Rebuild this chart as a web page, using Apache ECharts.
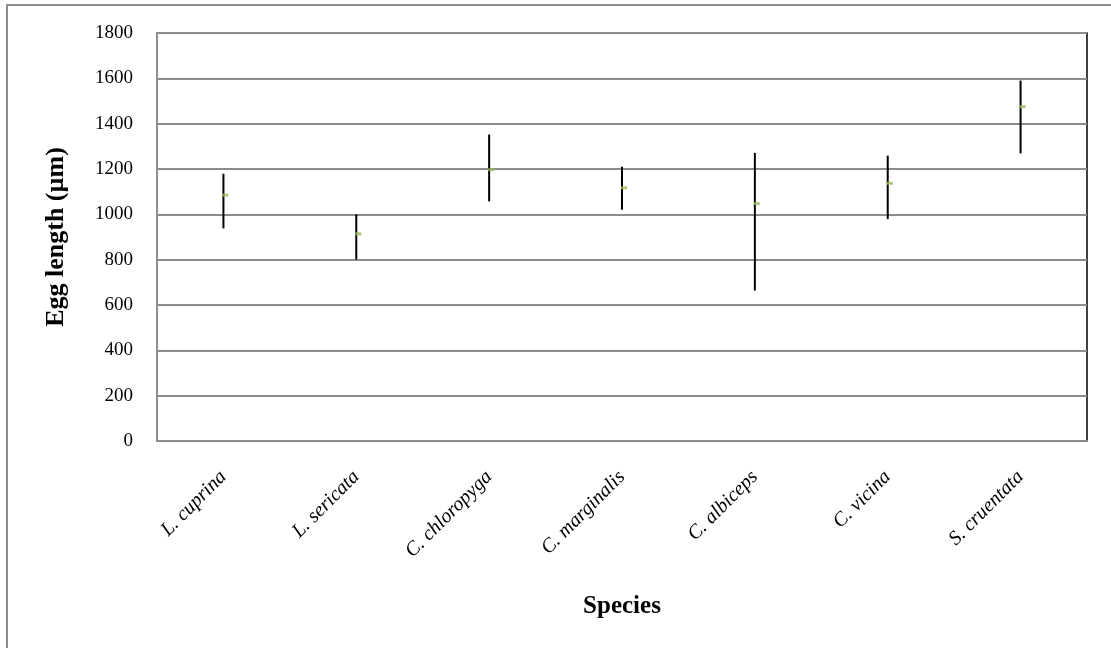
<!DOCTYPE html>
<html>
<head>
<meta charset="utf-8">
<script src="https://cdn.jsdelivr.net/npm/echarts@6/dist/echarts.min.js"></script>
<style>
  html, body { margin: 0; padding: 0; background: #fff; }
  #chart { width: 1111px; height: 648px; }
</style>
</head>
<body>
<div id="chart"></div>
<script>
const species = ['L. cuprina', 'L. sericata', 'C. chloropyga', 'C. marginalis', 'C. albiceps', 'C. vicina', 'S. cruentata']
const meanLength = [1085, 914, 1197, 1117, 1048, 1137, 1475]
const minLength = [938, 800, 1057, 1020, 664, 979, 1269]
const maxLength = [1179, 1000, 1352, 1210, 1271, 1259, 1590]

const font = '"Liberation Serif", "Times New Roman", serif'

const chart = echarts.init(document.getElementById('chart'))

const option = {
  backgroundColor: '#ffffff',
  animation: false,
  graphic: [
    {
      type: 'rect',
      shape: { x: 7, y: 5, width: 1200, height: 700 },
      style: { fill: 'none', stroke: '#8c8c8c', lineWidth: 2 },
      silent: true,
    },
  ],
  grid: {
    left: 157,
    right: 24,
    top: 33,
    bottom: 207,
    show: true,
    borderColor: '#000',
    borderWidth: 1.5,
    backgroundColor: 'transparent',
  },
  xAxis: {
    type: 'category',
    data: species,
    boundaryGap: true,
    name: 'Species',
    nameLocation: 'middle',
    nameGap: 153,
    nameTextStyle: { fontFamily: font, fontSize: 25, fontWeight: 'bold', color: '#000' },
    axisLine: { lineStyle: { color: '#8c8c8c', width: 2 } },
    axisTick: { alignWithLabel: true, length: 6, lineStyle: { color: '#8c8c8c', width: 1.5 } },
    axisLabel: {
      rotate: 45,
      margin: 33,
      fontFamily: font,
      fontStyle: 'italic',
      fontSize: 20,
      color: '#000',
    },
  },
  yAxis: {
    type: 'value',
    min: 0,
    max: 1800,
    interval: 200,
    name: 'Egg length (µm)',
    nameLocation: 'middle',
    nameGap: 88,
    nameTextStyle: { fontFamily: font, fontSize: 26, fontWeight: 'bold', color: '#000' },
    axisLine: { show: true, lineStyle: { color: '#8c8c8c', width: 2 } },
    axisTick: { show: false },
    splitLine: { lineStyle: { color: '#8c8c8c', width: 2 } },
    axisLabel: {
      fontFamily: font,
      fontSize: 19,
      color: '#000',
      margin: 24,
      formatter: (v) => String(v),
    },
  },
  series: [
    {
      name: 'Range',
      type: 'custom',
      data: species.map((s, i) => [i, minLength[i], maxLength[i]]),
      renderItem: function (params, api) {
        const lo = api.coord([api.value(0), api.value(1)])
        const hi = api.coord([api.value(0), api.value(2)])
        return {
          type: 'line',
          shape: { x1: lo[0], y1: lo[1], x2: hi[0], y2: hi[1] },
          style: { stroke: '#000', lineWidth: 2 },
        }
      },
      z: 3,
    },
    {
      name: 'Mean',
      type: 'scatter',
      data: meanLength,
      symbol: 'rect',
      symbolSize: [6, 3],
      symbolOffset: [2, 0],
      itemStyle: { color: '#9bbb59' },
      z: 4,
    },
  ],
}

chart.setOption(option)
</script>
</body>
</html>
